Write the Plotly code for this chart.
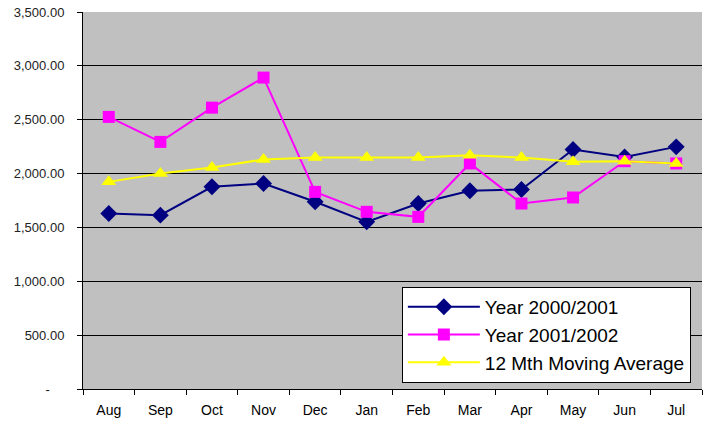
import plotly.graph_objects as go

months = ["Aug", "Sep", "Oct", "Nov", "Dec", "Jan", "Feb", "Mar", "Apr", "May", "Jun", "Jul"]
year_2000_2001 = [1630, 1614, 1877, 1908, 1738, 1552, 1722, 1840, 1852, 2223, 2155, 2248]
year_2001_2002 = [2526, 2294, 2612, 2891, 1830, 1645, 1598, 2094, 1722, 1778, 2115, 2094]
moving_avg = [1923, 2001, 2057, 2131, 2149, 2149, 2149, 2171, 2149, 2109, 2115, 2094]
y_tick_vals = [0, 500, 1000, 1500, 2000, 2500, 3000, 3500]
y_tick_text = ["-\u2007\u2007", "500.00", "1,000.00", "1,500.00", "2,000.00", "2,500.00", "3,000.00", "3,500.00"]

fig = go.Figure()
fig.add_trace(go.Scatter(x=months, y=year_2000_2001, name="Year 2000/2001", mode="lines+markers",
                         line=dict(color="#000080", width=2),
                         marker=dict(symbol="diamond", size=13, color="#000080")))
fig.add_trace(go.Scatter(x=months, y=year_2001_2002, name="Year 2001/2002", mode="lines+markers",
                         line=dict(color="#FF00FF", width=2),
                         marker=dict(symbol="square", size=12, color="#FF00FF")))
fig.add_trace(go.Scatter(x=months, y=moving_avg, name="12 Mth Moving Average", mode="lines+markers",
                         line=dict(color="#FFFF00", width=2),
                         marker=dict(symbol="triangle-up", size=13, color="#FFFF00")))

fig.update_layout(
    width=704, height=421,
    margin=dict(l=83, r=2, t=12, b=32),
    paper_bgcolor="white",
    plot_bgcolor="#C0C0C0",
    font=dict(family="Liberation Sans, Arial, sans-serif", color="#000000", size=13),
    showlegend=True,
    legend=dict(
        x=0.982, xanchor="right", y=0.016, yanchor="bottom",
        bgcolor="white", bordercolor="black", borderwidth=1,
        font=dict(size=19, color="black"), tracegroupgap=0, itemwidth=72,
    ),
    xaxis=dict(
        type="category", showgrid=False, ticks="outside", ticklen=5, tickcolor="black",
        tickson="boundaries", showline=True, linecolor="black", linewidth=1,
        tickfont=dict(size=14), range=[-0.5, 11.5], automargin=False,
        ticklabelstandoff=8,
    ),
    yaxis=dict(
        range=[0, 3500], tickvals=y_tick_vals, ticktext=y_tick_text,
        showgrid=True, gridcolor="black", gridwidth=1, zeroline=False,
        ticks="outside", ticklen=5, tickcolor="black", showline=True,
        linecolor="black", linewidth=1, tickfont=dict(size=13, color="#222222"),
        automargin=False, ticklabelstandoff=10,
    ),
)

fig.write_html("out.html", config={"displayModeBar": False},
               post_script="document.body.style.margin='0';document.body.style.overflow='hidden';")
